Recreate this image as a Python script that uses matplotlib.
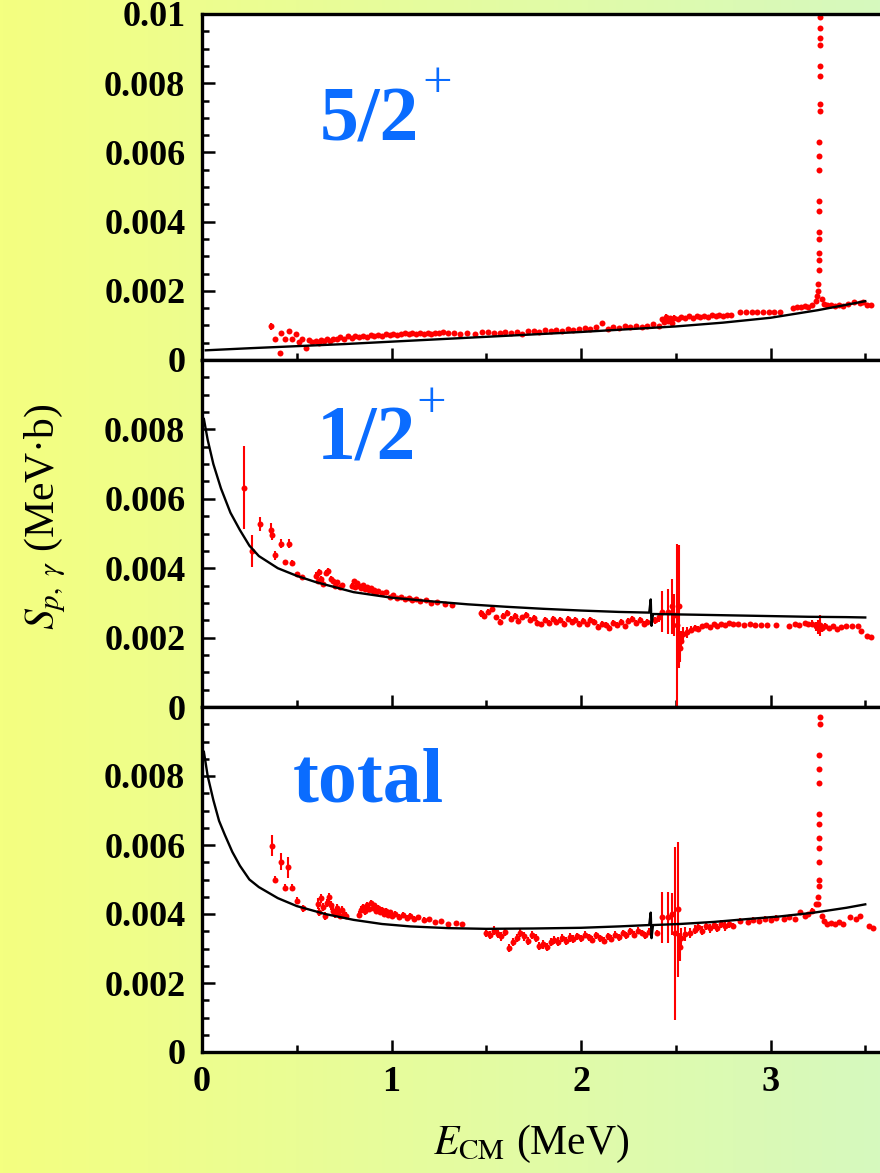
import numpy as np
import matplotlib.pyplot as plt
from matplotlib.ticker import MultipleLocator

plt.rcParams['font.family'] = 'serif'
plt.rcParams['font.serif'] = ['Liberation Serif', 'DejaVu Serif']
plt.rcParams['mathtext.fontset'] = 'stix'

# ---- 5/2+ component: measured points ----
e_52 = [0.364, 0.387, 0.410, 0.418, 0.440, 0.457, 0.475, 0.496, 0.510, 0.526,
        0.549, 0.565, 0.580, 0.600, 0.615, 0.630, 0.645, 0.660, 0.675, 0.690,
        0.710, 0.730, 0.750, 0.770, 0.790, 0.810, 0.830, 0.850, 0.870, 0.890,
        0.910, 0.930, 0.950, 0.970, 0.990, 1.010, 1.030, 1.050, 1.070, 1.090,
        1.110, 1.130, 1.150, 1.170, 1.190, 1.210, 1.230, 1.250, 1.270, 1.300,
        1.330, 1.360, 1.400, 1.440, 1.480, 1.510, 1.540, 1.570, 1.600, 1.630,
        1.660, 1.690, 1.720, 1.750, 1.780, 1.810, 1.840, 1.870, 1.900, 1.930,
        1.960, 1.990, 2.020, 2.050, 2.080, 2.110, 2.140, 2.170, 2.200, 2.230,
        2.260, 2.290, 2.320, 2.350, 2.380, 2.410, 2.430, 2.440, 2.450, 2.460,
        2.470, 2.480, 2.490, 2.510, 2.530, 2.550, 2.570, 2.590, 2.610, 2.630,
        2.650, 2.670, 2.690, 2.710, 2.730, 2.750, 2.770, 2.790, 2.840, 2.870,
        2.900, 2.930, 2.960, 2.990, 3.020, 3.050, 3.120, 3.140, 3.160, 3.180,
        3.200, 3.220, 3.240, 3.245, 3.270, 3.280, 3.300, 3.320, 3.340, 3.360,
        3.380, 3.410, 3.440, 3.470, 3.490, 3.510, 3.530]
s_52 = [0.00098, 0.00060, 0.00021, 0.00077, 0.00062, 0.00085, 0.00062, 0.00075, 0.00053, 0.00060,
        0.00036, 0.00058, 0.00052, 0.00056, 0.00050, 0.00058, 0.00054, 0.00060, 0.00055, 0.00062,
        0.00060, 0.00066, 0.00062, 0.00068, 0.00064, 0.00070, 0.00066, 0.00070, 0.00067, 0.00072,
        0.00068, 0.00073, 0.00070, 0.00074, 0.00071, 0.00076, 0.00072, 0.00075, 0.00078, 0.00074,
        0.00077, 0.00075, 0.00079, 0.00076, 0.00078, 0.00075, 0.00079, 0.00077, 0.00080, 0.00077,
        0.00079, 0.00076, 0.00078, 0.00076, 0.00080, 0.00082, 0.00079, 0.00077, 0.00081, 0.00078,
        0.00082, 0.00076, 0.00083, 0.00085, 0.00081, 0.00086, 0.00083, 0.00088, 0.00085, 0.00089,
        0.00086, 0.00090, 0.00092, 0.00089, 0.00094, 0.00108, 0.00091, 0.00095, 0.00093, 0.00098,
        0.00095, 0.00099, 0.00096, 0.00099, 0.00103, 0.00098, 0.00118, 0.00110, 0.00125, 0.00112,
        0.00120, 0.00108, 0.00122, 0.00118, 0.00124, 0.00120, 0.00126, 0.00122, 0.00127, 0.00123,
        0.00128, 0.00124, 0.00129, 0.00127, 0.00130, 0.00128, 0.00131, 0.00129, 0.00138, 0.00138,
        0.00138, 0.00138, 0.00138, 0.00138, 0.00138, 0.00138, 0.00150, 0.00154, 0.00152, 0.00156,
        0.00153, 0.00158, 0.00170, 0.00185, 0.00175, 0.00162, 0.00158, 0.00160, 0.00157, 0.00159,
        0.00156, 0.00163, 0.00167, 0.00165, 0.00169, 0.00160, 0.00159]
err_52 = [0.00010, 0.00005, 0.00004, 0.00005, 0.00004, 0.00006, 0.00004, 0.00004, 0.00004, 0.00004,
          0.00004, 0.00004, 0.00004, 0.00004, 0.00004, 0.00004, 0.00004, 0.00004, 0.00004, 0.00004,
          0.00004, 0.00004, 0.00004, 0.00004, 0.00004, 0.00004, 0.00004, 0.00004, 0.00004, 0.00004,
          0.00004, 0.00004, 0.00004, 0.00004, 0.00004, 0.00004, 0.00004, 0.00004, 0.00004, 0.00004,
          0.00004, 0.00004, 0.00004, 0.00004, 0.00004, 0.00004, 0.00004, 0.00004, 0.00004, 0.00004,
          0.00004, 0.00004, 0.00004, 0.00004, 0.00004, 0.00004, 0.00004, 0.00004, 0.00004, 0.00004,
          0.00004, 0.00004, 0.00004, 0.00004, 0.00004, 0.00004, 0.00004, 0.00004, 0.00004, 0.00004,
          0.00004, 0.00004, 0.00004, 0.00004, 0.00004, 0.00004, 0.00004, 0.00004, 0.00004, 0.00004,
          0.00004, 0.00004, 0.00004, 0.00004, 0.00004, 0.00004, 0.00007, 0.00007, 0.00007, 0.00007,
          0.00007, 0.00007, 0.00007, 0.00005, 0.00005, 0.00005, 0.00005, 0.00005, 0.00005, 0.00005,
          0.00003, 0.00003, 0.00003, 0.00003, 0.00003, 0.00003, 0.00003, 0.00003, 0.00003, 0.00003,
          0.00003, 0.00003, 0.00003, 0.00003, 0.00003, 0.00003, 0.00003, 0.00003, 0.00003, 0.00003,
          0.00003, 0.00003, 0.00004, 0.00005, 0.00004, 0.00003, 0.00003, 0.00003, 0.00003, 0.00003,
          0.00003, 0.00003, 0.00003, 0.00003, 0.00003, 0.00003, 0.00003]

# narrow resonance near 3.26 MeV
e_spike = [3.252, 3.253, 3.254, 3.255, 3.255, 3.256, 3.256, 3.257, 3.257, 3.258,
           3.258, 3.258, 3.259, 3.259, 3.259, 3.260, 3.260, 3.260, 3.261, 3.261]
s_spike_52 = [0.00200, 0.00220, 0.00260, 0.00290, 0.00310, 0.00350, 0.00370, 0.00430, 0.00460, 0.00550,
              0.00590, 0.00630, 0.00720, 0.00740, 0.00820, 0.00850, 0.00910, 0.00930, 0.00960, 0.00990]
s_spike_tot = [0.00430, 0.00450, 0.00480, 0.00500, 0.00550, 0.00590, 0.00620, 0.00660, 0.00690, 0.00780,
               0.00820, 0.00860, 0.00950, 0.00970, 0.01050, 0.01080, 0.01140, 0.01160, 0.01190, 0.01220]

# ---- 1/2+ component ----
e_12 = [0.220, 0.265, 0.305, 0.364, 0.370, 0.387, 0.418, 0.440, 0.457, 0.475,
        0.503, 0.530, 0.600, 0.610, 0.620, 0.630, 0.640, 0.655, 0.665, 0.680,
        0.690, 0.700, 0.715, 0.730, 0.740, 0.790, 0.800, 0.810, 0.820, 0.830,
        0.840, 0.850, 0.860, 0.870, 0.880, 0.890, 0.900, 0.910, 0.920, 0.930,
        0.950, 0.970, 0.990, 1.010, 1.030, 1.050, 1.070, 1.090, 1.110, 1.130,
        1.150, 1.180, 1.210, 1.240, 1.280, 1.320, 1.470, 1.490, 1.510, 1.530,
        1.550, 1.570, 1.590, 1.610, 1.630, 1.650, 1.670, 1.690, 1.710, 1.730,
        1.750, 1.770, 1.790, 1.810, 1.830, 1.850, 1.870, 1.890, 1.910, 1.930,
        1.950, 1.970, 1.990, 2.010, 2.030, 2.050, 2.070, 2.090, 2.110, 2.130,
        2.150, 2.170, 2.190, 2.210, 2.230, 2.250, 2.270, 2.290, 2.310, 2.330,
        2.350, 2.390, 2.410, 2.430, 2.460, 2.480, 2.490, 2.505, 2.515, 2.520,
        2.530, 2.540, 2.560, 2.580, 2.600, 2.620, 2.640, 2.660, 2.680, 2.700,
        2.720, 2.740, 2.760, 2.780, 2.800, 2.830, 2.860, 2.890, 2.920, 2.950,
        2.980, 3.030, 3.100, 3.130, 3.150, 3.180, 3.200, 3.220, 3.240, 3.250,
        3.260, 3.270, 3.290, 3.310, 3.330, 3.350, 3.370, 3.400, 3.430, 3.460,
        3.480, 3.510, 3.530]
s_12 = [0.00632, 0.00450, 0.00527, 0.00510, 0.00495, 0.00437, 0.00471, 0.00417, 0.00471, 0.00416,
        0.00383, 0.00375, 0.00378, 0.00362, 0.00388, 0.00370, 0.00355, 0.00387, 0.00392, 0.00370,
        0.00362, 0.00350, 0.00360, 0.00345, 0.00352, 0.00350, 0.00362, 0.00345, 0.00358, 0.00350,
        0.00342, 0.00352, 0.00340, 0.00345, 0.00336, 0.00342, 0.00334, 0.00338, 0.00330, 0.00335,
        0.00328, 0.00330, 0.00318, 0.00322, 0.00314, 0.00318, 0.00310, 0.00315, 0.00308, 0.00312,
        0.00305, 0.00307, 0.00300, 0.00302, 0.00296, 0.00294, 0.00270, 0.00262, 0.00275, 0.00282,
        0.00258, 0.00245, 0.00262, 0.00272, 0.00255, 0.00262, 0.00248, 0.00258, 0.00266, 0.00250,
        0.00256, 0.00243, 0.00238, 0.00250, 0.00242, 0.00255, 0.00245, 0.00250, 0.00240, 0.00253,
        0.00245, 0.00250, 0.00240, 0.00248, 0.00238, 0.00252, 0.00246, 0.00230, 0.00240, 0.00236,
        0.00228, 0.00242, 0.00236, 0.00245, 0.00232, 0.00248, 0.00255, 0.00242, 0.00250, 0.00240,
        0.00245, 0.00250, 0.00258, 0.00275, 0.00275, 0.00290, 0.00265, 0.00235, 0.00290, 0.00170,
        0.00190, 0.00210, 0.00215, 0.00222, 0.00228, 0.00226, 0.00232, 0.00236, 0.00230, 0.00238,
        0.00234, 0.00240, 0.00236, 0.00242, 0.00238, 0.00240, 0.00236, 0.00238, 0.00236, 0.00236,
        0.00236, 0.00236, 0.00233, 0.00240, 0.00236, 0.00242, 0.00238, 0.00240, 0.00232, 0.00230,
        0.00235, 0.00228, 0.00234, 0.00228, 0.00232, 0.00224, 0.00230, 0.00232, 0.00234, 0.00234,
        0.00220, 0.00206, 0.00202]
err_12 = [0.00120, 0.00046, 0.00020, 0.00020, 0.00015, 0.00012, 0.00012, 0.00008, 0.00012, 0.00008,
          0.00006, 0.00006, 0.00010, 0.00008, 0.00010, 0.00008, 0.00008, 0.00008, 0.00008, 0.00008,
          0.00006, 0.00006, 0.00006, 0.00006, 0.00006, 0.00006, 0.00006, 0.00006, 0.00006, 0.00006,
          0.00006, 0.00006, 0.00006, 0.00006, 0.00006, 0.00006, 0.00006, 0.00006, 0.00006, 0.00006,
          0.00005, 0.00005, 0.00005, 0.00005, 0.00005, 0.00005, 0.00005, 0.00005, 0.00005, 0.00005,
          0.00005, 0.00005, 0.00005, 0.00005, 0.00005, 0.00005, 0.00010, 0.00008, 0.00008, 0.00008,
          0.00008, 0.00008, 0.00008, 0.00008, 0.00008, 0.00008, 0.00008, 0.00008, 0.00008, 0.00008,
          0.00008, 0.00008, 0.00008, 0.00008, 0.00008, 0.00008, 0.00008, 0.00008, 0.00008, 0.00008,
          0.00008, 0.00008, 0.00008, 0.00008, 0.00008, 0.00008, 0.00008, 0.00008, 0.00008, 0.00008,
          0.00008, 0.00008, 0.00008, 0.00008, 0.00008, 0.00008, 0.00008, 0.00008, 0.00008, 0.00008,
          0.00008, 0.00010, 0.00012, 0.00060, 0.00065, 0.00080, 0.00060, 0.00235, 0.00177, 0.00040,
          0.00030, 0.00020, 0.00015, 0.00010, 0.00008, 0.00006, 0.00006, 0.00006, 0.00006, 0.00006,
          0.00005, 0.00005, 0.00005, 0.00005, 0.00005, 0.00005, 0.00005, 0.00005, 0.00005, 0.00005,
          0.00005, 0.00005, 0.00005, 0.00006, 0.00006, 0.00006, 0.00008, 0.00010, 0.00012, 0.00020,
          0.00030, 0.00012, 0.00008, 0.00006, 0.00006, 0.00005, 0.00005, 0.00005, 0.00005, 0.00005,
          0.00005, 0.00005, 0.00005]

# ---- total ----
e_tot = [0.370, 0.387, 0.417, 0.438, 0.455, 0.475, 0.503, 0.531, 0.610, 0.620,
         0.630, 0.640, 0.650, 0.660, 0.670, 0.680, 0.690, 0.700, 0.710, 0.720,
         0.730, 0.740, 0.750, 0.760, 0.830, 0.840, 0.850, 0.860, 0.870, 0.880,
         0.890, 0.900, 0.910, 0.920, 0.930, 0.940, 0.950, 0.960, 0.970, 0.980,
         0.990, 1.000, 1.020, 1.040, 1.060, 1.080, 1.100, 1.120, 1.140, 1.170,
         1.200, 1.230, 1.260, 1.300, 1.340, 1.370, 1.500, 1.520, 1.540, 1.560,
         1.580, 1.600, 1.620, 1.640, 1.660, 1.680, 1.700, 1.720, 1.740, 1.760,
         1.780, 1.800, 1.820, 1.840, 1.860, 1.880, 1.900, 1.920, 1.940, 1.960,
         1.980, 2.000, 2.020, 2.040, 2.060, 2.080, 2.100, 2.120, 2.140, 2.160,
         2.180, 2.200, 2.220, 2.240, 2.260, 2.280, 2.300, 2.320, 2.340, 2.360,
         2.400, 2.430, 2.460, 2.480, 2.495, 2.510, 2.520, 2.530, 2.550, 2.575,
         2.600, 2.620, 2.640, 2.660, 2.680, 2.700, 2.720, 2.740, 2.760, 2.780,
         2.800, 2.840, 2.880, 2.910, 2.940, 2.970, 3.000, 3.030, 3.070, 3.100,
         3.130, 3.155, 3.180, 3.200, 3.220, 3.240, 3.270, 3.280, 3.300, 3.320,
         3.340, 3.360, 3.380, 3.420, 3.450, 3.470, 3.520, 3.540]
s_tot = [0.00598, 0.00499, 0.00552, 0.00476, 0.00535, 0.00476, 0.00438, 0.00417, 0.00430, 0.00405,
         0.00445, 0.00420, 0.00395, 0.00432, 0.00448, 0.00425, 0.00410, 0.00400, 0.00418, 0.00405,
         0.00395, 0.00412, 0.00400, 0.00395, 0.00398, 0.00412, 0.00420, 0.00408, 0.00425, 0.00415,
         0.00432, 0.00418, 0.00425, 0.00410, 0.00418, 0.00405, 0.00412, 0.00400, 0.00408, 0.00398,
         0.00405, 0.00395, 0.00400, 0.00392, 0.00398, 0.00388, 0.00395, 0.00385, 0.00390, 0.00382,
         0.00385, 0.00378, 0.00380, 0.00372, 0.00375, 0.00370, 0.00345, 0.00340, 0.00352, 0.00342,
         0.00335, 0.00348, 0.00302, 0.00318, 0.00330, 0.00345, 0.00335, 0.00322, 0.00340, 0.00330,
         0.00308, 0.00312, 0.00305, 0.00318, 0.00325, 0.00320, 0.00330, 0.00322, 0.00332, 0.00328,
         0.00335, 0.00330, 0.00340, 0.00332, 0.00326, 0.00338, 0.00330, 0.00322, 0.00335, 0.00328,
         0.00340, 0.00332, 0.00345, 0.00338, 0.00350, 0.00340, 0.00352, 0.00345, 0.00338, 0.00348,
         0.00345, 0.00390, 0.00390, 0.00400, 0.00344, 0.00414, 0.00305, 0.00330, 0.00342, 0.00345,
         0.00355, 0.00362, 0.00352, 0.00365, 0.00358, 0.00368, 0.00360, 0.00370, 0.00364, 0.00372,
         0.00366, 0.00380, 0.00378, 0.00384, 0.00380, 0.00386, 0.00382, 0.00388, 0.00385, 0.00390,
         0.00386, 0.00407, 0.00395, 0.00400, 0.00410, 0.00430, 0.00395, 0.00380, 0.00372, 0.00375,
         0.00372, 0.00376, 0.00370, 0.00392, 0.00385, 0.00394, 0.00365, 0.00360]
err_tot = [0.00030, 0.00010, 0.00025, 0.00010, 0.00030, 0.00010, 0.00010, 0.00010, 0.00015, 0.00012,
           0.00012, 0.00012, 0.00012, 0.00012, 0.00012, 0.00012, 0.00012, 0.00012, 0.00012, 0.00012,
           0.00010, 0.00010, 0.00010, 0.00010, 0.00010, 0.00010, 0.00010, 0.00010, 0.00010, 0.00010,
           0.00008, 0.00008, 0.00008, 0.00008, 0.00008, 0.00008, 0.00008, 0.00008, 0.00008, 0.00008,
           0.00008, 0.00008, 0.00008, 0.00008, 0.00008, 0.00008, 0.00008, 0.00008, 0.00008, 0.00008,
           0.00006, 0.00006, 0.00006, 0.00006, 0.00006, 0.00006, 0.00012, 0.00012, 0.00012, 0.00012,
           0.00012, 0.00012, 0.00012, 0.00012, 0.00012, 0.00012, 0.00012, 0.00012, 0.00012, 0.00012,
           0.00012, 0.00012, 0.00012, 0.00012, 0.00012, 0.00012, 0.00012, 0.00012, 0.00012, 0.00012,
           0.00010, 0.00010, 0.00010, 0.00010, 0.00010, 0.00010, 0.00010, 0.00010, 0.00010, 0.00010,
           0.00010, 0.00010, 0.00010, 0.00010, 0.00010, 0.00010, 0.00010, 0.00010, 0.00010, 0.00010,
           0.00010, 0.00075, 0.00075, 0.00060, 0.00251, 0.00196, 0.00040, 0.00030, 0.00020, 0.00015,
           0.00012, 0.00012, 0.00012, 0.00012, 0.00012, 0.00012, 0.00012, 0.00012, 0.00012, 0.00012,
           0.00008, 0.00008, 0.00008, 0.00008, 0.00008, 0.00008, 0.00008, 0.00008, 0.00008, 0.00008,
           0.00006, 0.00006, 0.00006, 0.00006, 0.00006, 0.00006, 0.00006, 0.00006, 0.00006, 0.00006,
           0.00006, 0.00006, 0.00006, 0.00006, 0.00006, 0.00006, 0.00006, 0.00006]

# ---- model curves ----
ce_52 = [0.02, 0.25, 0.5, 0.75, 1.0, 1.25, 1.5, 1.75, 2.0, 2.25, 2.5, 2.75, 3.0, 3.25, 3.5]
cs_52 = [0.00028, 0.00034, 0.00040, 0.00046, 0.00053, 0.00060, 0.00067, 0.00074,
         0.00081, 0.00089, 0.00097, 0.00108, 0.00122, 0.00144, 0.00170]
ce_12 = [0.01, 0.03, 0.06, 0.10, 0.15, 0.20, 0.25, 0.30, 0.40, 0.50,
         0.60, 0.80, 1.00, 1.20, 1.40, 1.60, 1.80, 2.00, 2.20, 2.360,
         2.368, 2.372, 2.380, 2.60, 2.80, 3.00, 3.20, 3.40, 3.50]
cs_12 = [0.0083, 0.0077, 0.0070, 0.0063, 0.0056, 0.0051, 0.00465, 0.00435, 0.00400, 0.00378,
         0.00360, 0.00331, 0.00315, 0.00305, 0.00296, 0.00289, 0.00283, 0.00278, 0.00274, 0.00272,
         0.00310, 0.00234, 0.00268, 0.00266, 0.00264, 0.00262, 0.00260, 0.00259, 0.00258]
ce_tot = [0.01, 0.03, 0.06, 0.09, 0.12, 0.16, 0.20, 0.25, 0.30, 0.40,
          0.50, 0.65, 0.80, 0.95, 1.10, 1.30, 1.50, 1.75, 2.00, 2.20,
          2.360, 2.368, 2.372, 2.380, 2.52, 2.70, 2.87, 3.05, 3.23, 3.40, 3.50]
cs_tot = [0.0087, 0.0080, 0.0073, 0.0067, 0.0063, 0.0058, 0.0054, 0.00500, 0.00478, 0.00446,
          0.00423, 0.00400, 0.00383, 0.00371, 0.00364, 0.00359, 0.00357, 0.00358, 0.00360, 0.00364,
          0.00368, 0.00404, 0.00330, 0.00368, 0.00371, 0.00377, 0.00385, 0.00393, 0.00404, 0.00418,
          0.00428]

W_PX, H_PX = 880, 1173
fig = plt.figure(figsize=(W_PX / 100, H_PX / 100), dpi=100)

# yellow -> light green background
bg = fig.add_axes([0, 0, 1, 1], zorder=-10)
t = np.linspace(0, 1, 256)[:, None]
c_left = np.array([244, 255, 128]) / 255
c_right = np.array([214, 249, 190]) / 255
bg.imshow((c_left + t * (c_right - c_left))[None, :, :], aspect='auto', extent=[0, 1, 0, 1])
bg.axis('off')

left = 202 / W_PX
width = 3.6 * 189.5 / W_PX
rows = [(14, 360), (360, 707), (707, 1052)]

panels = [
    (e_52, s_52, err_52, ce_52, cs_52, s_spike_52),
    (e_12, s_12, err_12, ce_12, cs_12, None),
    (e_tot, s_tot, err_tot, ce_tot, cs_tot, s_spike_tot),
]

red = '#ff0000'
for i, ((top, bot), (e, s, err, ce, cs, spk)) in enumerate(zip(rows, panels)):
    ax = fig.add_axes([left, 1 - bot / H_PX, width, (bot - top) / H_PX])
    ax.set_facecolor('white')
    ax.errorbar(e, s, yerr=err, fmt='o', color=red, ms=4.3, mew=0,
                elinewidth=1.5, capsize=0, zorder=2)
    if spk is not None:
        ax.plot(e_spike, spk, 'o', color=red, ms=4.3, mew=0, zorder=2)
    ax.plot(ce, cs, color='black', lw=1.7, zorder=3)

    ax.set_xlim(0, 3.6)
    ax.set_ylim(0, 0.01)
    for sp in ax.spines.values():
        sp.set_linewidth(2.4)

    ax.xaxis.set_major_locator(MultipleLocator(1))
    ax.xaxis.set_minor_locator(MultipleLocator(0.5))
    ax.yaxis.set_minor_locator(MultipleLocator(0.0005))
    ax.tick_params(which='both', direction='in', top=False, right=False, width=1.8)
    ax.tick_params(which='major', length=9)
    ax.tick_params(which='minor', length=5)
    ax.tick_params(axis='y', pad=12)
    ax.tick_params(axis='x', pad=10)

    if i == 0:
        yt = [0, 0.002, 0.004, 0.006, 0.008, 0.01]
        yl = ['0', '0.002', '0.004', '0.006', '0.008', '0.01']
    else:
        yt = [0, 0.002, 0.004, 0.006, 0.008]
        yl = ['0', '0.002', '0.004', '0.006', '0.008']
    ax.set_yticks(yt)
    ax.set_yticklabels(yl, fontsize=26, fontweight='bold')
    ax.set_xticks([0, 1, 2, 3])
    if i == 2:
        ax.set_xticklabels(['0', '1', '2', '3'], fontsize=26, fontweight='bold')
    else:
        ax.set_xticklabels([])

# panel labels
blue = '#0a6cff'
def px(x, y):
    return x / W_PX, 1 - y / H_PX

fig.text(*px(320, 140), '5/2', color=blue, fontsize=56, fontweight='bold', ha='left', va='baseline')
fig.text(*px(437, 84), '+', color=blue, fontsize=38, ha='center', va='center')
fig.text(*px(317, 460), '1/2', color=blue, fontsize=56, fontweight='bold', ha='left', va='baseline')
fig.text(*px(431, 404), '+', color=blue, fontsize=38, ha='center', va='center')
fig.text(*px(293, 801), 'total', color=blue, fontsize=56, fontweight='bold', ha='left', va='baseline')

# axis titles
fig.text(*px(531, 1154), r'$E_{\mathrm{CM}}$ (MeV)', fontsize=30, ha='center', va='baseline')
fig.text(*px(45, 517), r'$S_{p,\ \gamma}$ (MeV·b)', fontsize=30, rotation=90, ha='center', va='center')

fig.savefig('out.png', dpi=100)
